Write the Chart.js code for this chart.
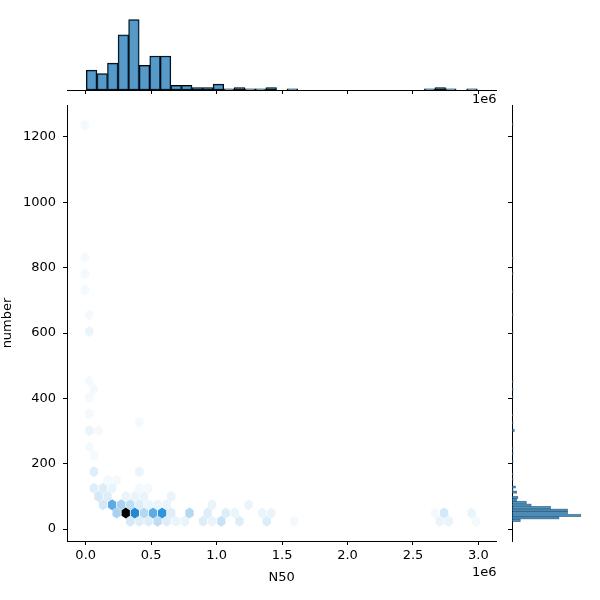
<!DOCTYPE html>
<html>
<head>
<meta charset="utf-8">
<script src="https://cdn.jsdelivr.net/npm/chart.js@4.4.1/dist/chart.umd.min.js"></script>
<style>
  html, body { margin: 0; padding: 0; background: #fff; }
  #wrap { position: relative; width: 600px; height: 600px; }
  #wrap canvas { position: absolute; left: 0; top: 0; }
</style>
</head>
<body>
<div id="wrap">
  <canvas id="joint" width="600" height="600"></canvas>
  <canvas id="topHist" width="600" height="600"></canvas>
  <canvas id="rightHist" width="600" height="600"></canvas>
</div>
<script>
// Axis ticks (N50 is in units of 1e6)
const xTicks = [0, 0.5, 1, 1.5, 2, 2.5, 3];
const xTickLabels = ['0.0', '0.5', '1.0', '1.5', '2.0', '2.5', '3.0'];
const yTicks = [0, 200, 400, 600, 800, 1000, 1200];
const yTickLabels = ['0', '200', '400', '600', '800', '1000', '1200'];

// Hexbin cells, one row of the hex lattice per entry
const hexRowY = [24, 49.25, 74.5, 99.75, 125, 150.25, 175.5, 226, 251.25, 301.75, 327,
                 352.25, 402.75, 428, 453.25, 604.75, 655.25, 731, 781.5, 832, 1236];
const hexRowX = [
  [0.3405, 0.410, 0.4795, 0.549, 0.6185, 0.688, 0.7575, 0.8965, 0.966, 1.0355, 1.1745, 1.383, 1.5915, 2.7035, 2.773, 2.9815],
  [0.2363, 0.3058, 0.3753, 0.4448, 0.5143, 0.5838, 0.6533, 0.7923, 0.9313, 1.0703, 1.1398, 1.3483, 1.4178, 2.6688, 2.7383, 2.9468],
  [0.132, 0.2015, 0.271, 0.3405, 0.410, 0.4795, 0.549, 0.6185, 0.966, 1.244],
  [0.0973, 0.1668, 0.3058, 0.3753, 0.4448, 0.6533],
  [0.0625, 0.132, 0.2015, 0.410, 0.4795],
  [0.1668, 0.2363],
  [0.0625, 0.410],
  [0.0625], [0.0278], [0.0278, 0.0973], [0.410], [0.0278], [0.0278], [0.0625],
  [0.0278], [0.0278], [0.0278], [-0.007], [-0.007], [-0.007], [-0.007]
];
const hexRowCount = [
  [4, 3, 3, 6, 3, 2, 2, 3, 2, 5, 3, 3, 1, 2, 2, 1],
  [8, 40, 21, 7, 15, 19, 3, 7, 3, 3, 2, 2, 2, 1, 4, 2],
  [4, 15, 8, 6, 3, 2, 2, 2, 2, 2],
  [4, 3, 2, 2, 2, 2],
  [3, 3, 2, 1, 1],
  [1, 1],
  [3, 2],
  [1], [1], [2, 1], [1], [1], [1], [1], [1], [2], [1], [1], [1], [1], [1]
];

// Marginal histogram of N50 (37 equal bins)
const n50BinStart = 0.005;
const n50BinWidth = 0.0807;
const n50Counts = [17, 14, 23, 47, 60, 21, 29, 29, 4, 4, 2, 2, 5, 1, 2, 1, 1, 2, 0, 1,
                   0, 0, 0, 0, 0, 0, 0, 0, 0, 0, 0, 0, 1, 2, 1, 0, 1];

// Marginal histogram of number (non-empty bins only)
const numBinStart = 22.6;
const numBinWidth = 7.87;
const numBinIndex = [0, 1, 2, 3, 4, 5, 6, 7, 8, 9, 10, 11, 12, 13, 16, 18, 23, 26, 28, 35, 38, 41, 48, 51, 54, 73, 80, 89, 96, 102, 154];
const numCounts = [7, 39, 57, 46, 46, 32, 16, 12, 4, 5, 0, 4, 1, 3, 1, 1, 1, 1, 1, 2, 1, 1, 1, 1, 1, 1, 1, 1, 1, 1, 1];

// Hex lattice spacing
const hexW = 0.0695;
const hexH = 50.5;

const xRange = { min: -0.1429, max: 3.138 };
const yRange = { min: -36.4, max: 1297.9 };
const FONT = 'DejaVu Sans';

Chart.defaults.font.family = FONT;
Chart.defaults.font.size = 13;
Chart.defaults.color = '#000';

const hexPoints = [];
const hexCount = [];
hexRowY.forEach((yv, r) => {
  hexRowX[r].forEach((xv, k) => {
    hexPoints.push({ x: xv, y: yv });
    hexCount.push(hexRowCount[r][k]);
  });
});
const maxCount = Math.max(...hexCount);

// white -> C0 blue -> black, like seaborn's hex cmap
function hexColor(c) {
  const light = 100 * (1 - c / maxCount);
  return `hsl(204.6, 70.5%, ${light}%)`;
}

const hexPlugin = {
  id: 'hexCells',
  beforeDatasetsDraw(chart) {
    const { ctx, chartArea, scales: { x, y } } = chart;
    const pts = chart.getDatasetMeta(0).data;
    // a bit narrower than the lattice, the white empty cells eat into the edges
    const hw = Math.abs(x.getPixelForValue(hexW / 2) - x.getPixelForValue(0)) - 0.4;
    const h3 = Math.abs(y.getPixelForValue(hexH / 3) - y.getPixelForValue(0));
    const h6 = h3 / 2;
    ctx.save();
    ctx.beginPath();
    ctx.rect(chartArea.left, chartArea.top, chartArea.width, chartArea.height);
    ctx.clip();
    pts.forEach((p, i) => {
      ctx.beginPath();
      ctx.moveTo(p.x + hw, p.y + h6);
      ctx.lineTo(p.x + hw, p.y - h6);
      ctx.lineTo(p.x, p.y - h3);
      ctx.lineTo(p.x - hw, p.y - h6);
      ctx.lineTo(p.x - hw, p.y + h6);
      ctx.lineTo(p.x, p.y + h3);
      ctx.closePath();
      ctx.fillStyle = hexColor(hexCount[i]);
      ctx.fill();
    });
    ctx.restore();
  }
};

// matplotlib-style offset text ("1e6") under the right end of an x axis
const offsetLabel = {
  id: 'offsetLabel',
  afterDraw(chart, args, opts) {
    if (!opts.text) return;
    const { ctx, chartArea } = chart;
    ctx.save();
    ctx.font = `13px "${FONT}"`;
    ctx.fillStyle = '#000';
    ctx.textAlign = 'right';
    ctx.textBaseline = 'middle';
    ctx.fillText(opts.text, chartArea.right, chartArea.bottom + opts.dy);
    ctx.restore();
  }
};

const setXTicks = s => { s.ticks = xTicks.map(v => ({ value: v })); };
const setYTicks = s => { s.ticks = yTicks.map(v => ({ value: v })); };
const tickGrid = { drawOnChartArea: false, tickLength: 4, color: '#000', tickWidth: 1 };
const spine = { color: '#000', width: 1 };

// Joint hexbin plot
new Chart(document.getElementById('joint'), {
  type: 'scatter',
  data: { datasets: [{ data: hexPoints, pointRadius: 0, pointHoverRadius: 0 }] },
  options: {
    responsive: false,
    animation: false,
    events: [],
    layout: { padding: { left: 0, top: 105, right: 103.5, bottom: 0 } },
    plugins: { legend: { display: false }, tooltip: { enabled: false }, offsetLabel: { text: '1e6', dy: 32 } },
    scales: {
      x: {
        type: 'linear', min: xRange.min, max: xRange.max,
        afterBuildTicks: setXTicks,
        afterFit: s => { s.height = 59; },
        grid: tickGrid, border: spine,
        ticks: { padding: 3, maxRotation: 0, autoSkip: false, callback: (v, i) => xTickLabels[i] },
        title: { display: true, text: 'N50', padding: { top: 0, bottom: 15 } }
      },
      y: {
        type: 'linear', min: yRange.min, max: yRange.max,
        afterBuildTicks: setYTicks,
        afterFit: s => { s.width = 67; },
        grid: tickGrid, border: spine,
        ticks: { padding: 7, autoSkip: false, callback: (v, i) => yTickLabels[i] },
        title: { display: true, text: 'number', padding: 0 }
      }
    }
  },
  plugins: [hexPlugin, offsetLabel]
});

// Top marginal histogram (N50)
new Chart(document.getElementById('topHist'), {
  type: 'bar',
  data: {
    datasets: [{
      data: n50Counts.map((c, i) => ({ x: n50BinStart + (i + 0.5) * n50BinWidth, y: c })),
      backgroundColor: 'rgba(31,119,180,0.75)',
      borderColor: '#000', borderWidth: 1, borderSkipped: false,
      barPercentage: 1, categoryPercentage: 1
    }]
  },
  options: {
    responsive: false,
    animation: false,
    events: [],
    layout: { padding: { left: 67, top: 15, right: 103.5, bottom: 500 } },
    plugins: { legend: { display: false }, tooltip: { enabled: false }, offsetLabel: { text: '1e6', dy: 10 } },
    scales: {
      x: {
        type: 'linear', min: xRange.min, max: xRange.max, offset: false,
        afterBuildTicks: setXTicks,
        afterFit: s => { s.height = 10; },
        grid: { ...tickGrid, offset: false }, border: spine,
        ticks: { display: false }
      },
      y: { display: false, min: 0, max: 64 }
    }
  },
  plugins: [offsetLabel]
});

// Right marginal histogram (number)
new Chart(document.getElementById('rightHist'), {
  type: 'bar',
  data: {
    datasets: [{
      data: numBinIndex.map((b, i) => ({ y: numBinStart + (b + 0.5) * numBinWidth, x: numCounts[i] })),
      backgroundColor: 'rgba(31,119,180,0.8)',
      borderColor: 'rgba(0,0,0,0.45)', borderWidth: 0.5, borderSkipped: false,
      barPercentage: 1, categoryPercentage: 1
    }]
  },
  options: {
    indexAxis: 'y',
    responsive: false,
    animation: false,
    events: [],
    layout: { padding: { left: 502, top: 105, right: 13, bottom: 59 } },
    plugins: { legend: { display: false }, tooltip: { enabled: false } },
    scales: {
      x: { display: false, min: 0, max: 62 },
      y: {
        type: 'linear', min: yRange.min, max: yRange.max, offset: false,
        afterBuildTicks: setYTicks,
        afterFit: s => { s.width = 10; },
        grid: { ...tickGrid, offset: false }, border: spine,
        ticks: { display: false }
      }
    }
  }
});
</script>
</body>
</html>
